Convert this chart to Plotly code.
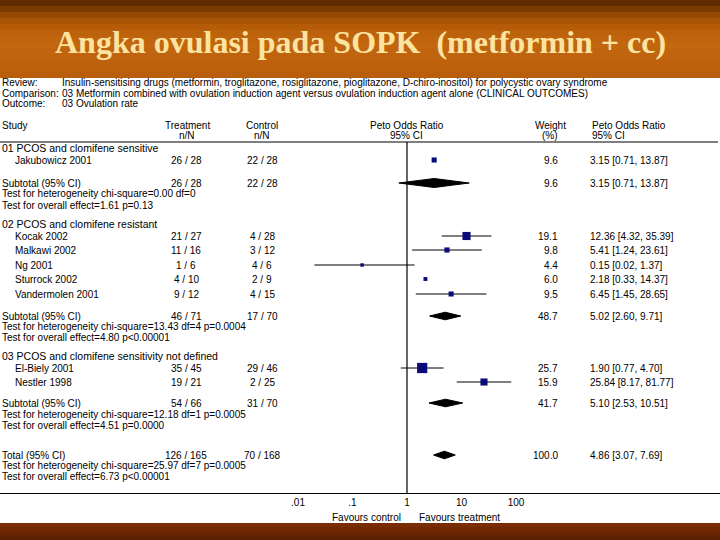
import math
import plotly.graph_objects as go

# ---------------- data ----------------
groups = ["01 PCOS and clomifene sensitive",
          "02 PCOS and clomifene resistant",
          "03 PCOS and clomifene sensitivity not defined"]
studies = ["Jakubowicz 2001", "Kocak 2002", "Malkawi 2002", "Ng 2001",
           "Sturrock 2002", "Vandermolen 2001", "El-Biely 2001", "Nestler 1998"]
treat_n = ["26 / 28", "21 / 27", "11 / 16", "1 / 6", "4 / 10", "9 / 12", "35 / 45", "19 / 21"]
control_n = ["22 / 28", "4 / 28", "3 / 12", "4 / 6", "2 / 9", "4 / 15", "29 / 46", "2 / 25"]
weights = [9.6, 19.1, 9.8, 4.4, 6.0, 9.5, 25.7, 15.9]
or_est = [3.15, 12.36, 5.41, 0.15, 2.18, 6.45, 1.90, 25.84]
or_lo = [0.71, 4.32, 1.24, 0.02, 0.33, 1.45, 0.77, 8.17]
or_hi = [13.87, 35.39, 23.61, 1.37, 14.37, 28.65, 4.70, 81.77]
ci_visible = [False, True, True, True, False, True, True, True]

sub_labels = ["Subtotal (95% CI)", "Subtotal (95% CI)", "Subtotal (95% CI)", "Total (95% CI)"]
sub_treat = ["26 / 28", "46 / 71", "54 / 66", "126 / 165"]
sub_ctrl = ["22 / 28", "17 / 70", "31 / 70", "70 / 168"]
sub_w = [9.6, 48.7, 41.7, 100.0]
sub_est = [3.15, 5.02, 5.10, 4.86]
sub_lo = [0.71, 2.60, 2.53, 3.07]
sub_hi = [13.87, 9.71, 10.51, 7.69]
het_text = ["chi-square=0.00 df=0", "chi-square=13.43 df=4 p=0.0004",
            "chi-square=12.18 df=1 p=0.0005", "chi-square=25.97 df=7 p=0.0005"]
overall_text = ["1.61 p=0.13", "4.80 p&lt;0.00001", "4.51 p=0.0000", "6.73 p&lt;0.00001"]

tick_vals = [0.01, 0.1, 1, 10, 100]
tick_labels = [".01", ".1", "1", "10", "100"]

review_lines = [
    ("Review:", "Insulin-sensitising drugs (metformin, troglitazone, rosiglitazone, pioglitazone, D-chiro-inositol) for polycystic ovary syndrome"),
    ("Comparison:", "03 Metformin combined with ovulation induction agent versus ovulation induction agent alone (CLINICAL OUTCOMES)"),
    ("Outcome:", "03 Ovulation rate"),
]
title_text = "Angka ovulasi pada SOPK&nbsp; (metformin + cc)"

# ---------------- layout (pixel positions) ----------------
W, H = 720, 540
X_ONE = 407.0      # pixel of OR = 1
DEC = 54.5         # pixels per decade
group_y = [148, 224, 356]
study_y = [160, 236, 250, 265, 279, 294, 368, 382]
sub_y = [183, 316, 403, 455]
het_y = [193, 326, 414, 465]
ovr_y = [205, 337, 425, 476]
AXIS_Y = 493
HEAD_LINE_Y = 142

FONT = "Liberation Sans, Arial, sans-serif"
FS = 10
NAVY = "#0a0a78"

def px(x):
    return x / W

def py(y):
    return 1 - y / H

fig = go.Figure()
ann = []

def txt(x, y, s, anchor="left", size=FS, color="black", family=FONT):
    ann.append(dict(x=px(x), y=py(y), xref="paper", yref="paper", text=s,
                    showarrow=False, xanchor=anchor, yanchor="middle",
                    font=dict(family=family, size=size, color=color)))

# vertical line at OR = 1
fig.add_trace(go.Scatter(x=[1, 1], y=[HEAD_LINE_Y, AXIS_Y], mode="lines",
                         line=dict(color="black", width=1.2), hoverinfo="skip"))

# study CIs and markers
for i in range(len(studies)):
    if ci_visible[i]:
        fig.add_trace(go.Scatter(x=[or_lo[i], or_hi[i]], y=[study_y[i], study_y[i]],
                                 mode="lines", line=dict(color="black", width=1),
                                 hoverinfo="skip"))
fig.add_trace(go.Scatter(x=or_est, y=study_y, mode="markers",
                         marker=dict(symbol="square", color=NAVY, opacity=1,
                                     size=[2 + 0.32 * w for w in weights],
                                     line=dict(width=0)),
                         hoverinfo="skip"))

# diamonds
for i in range(len(sub_est)):
    h = 4.5 if i == 0 else 3.8
    fig.add_trace(go.Scatter(x=[sub_lo[i], sub_est[i], sub_hi[i], sub_est[i], sub_lo[i]],
                             y=[sub_y[i], sub_y[i] - h, sub_y[i], sub_y[i] + h, sub_y[i]],
                             mode="lines", fill="toself", fillcolor="black",
                             line=dict(color="black", width=1), hoverinfo="skip"))

# ---------------- texts ----------------
txt(360, 42, "<b>" + title_text + "</b>", anchor="center", size=32,
    color="#fbe3a0", family="Liberation Serif, Times New Roman, serif")

for (lab, val), y in zip(review_lines, [82, 93, 103]):
    txt(0, y, lab)
    txt(60, y, val)

txt(0, 125, "Study")
txt(187, 125, "Treatment", "center")
txt(187, 135, "n/N", "center")
txt(262, 125, "Control", "center")
txt(262, 135, "n/N", "center")
txt(407, 125, "Peto Odds Ratio", "center")
txt(406, 135, "95% CI", "center")
txt(550, 125, "Weight", "center")
txt(550, 135, "(%)", "center")
txt(590, 125, "Peto Odds Ratio")
txt(590, 135, "95% CI")

for g, y in zip(groups, group_y):
    txt(0, y, g, size=10.5)

for i in range(len(studies)):
    y = study_y[i]
    txt(13, y, studies[i])
    txt(186, y, treat_n[i], "center")
    txt(262, y, control_n[i], "center")
    txt(560, y, f"{weights[i]:.1f}", "right")
    txt(588, y, f"{or_est[i]:.2f} [{or_lo[i]:.2f}, {or_hi[i]:.2f}]")

for i in range(len(sub_est)):
    txt(0, sub_y[i], sub_labels[i])
    txt(186, sub_y[i], sub_treat[i], "center")
    txt(262, sub_y[i], sub_ctrl[i], "center")
    txt(560, sub_y[i], f"{sub_w[i]:.1f}", "right")
    txt(588, sub_y[i], f"{sub_est[i]:.2f} [{sub_lo[i]:.2f}, {sub_hi[i]:.2f}]")
    txt(0, het_y[i], "Test for heterogeneity " + het_text[i])
    txt(0, ovr_y[i], "Test for overall effect=" + overall_text[i])

txt(403, 517, "Favours control", "right")
txt(417, 517, "Favours treatment", "left")

# ---------------- background shapes ----------------
shapes = []
top_cols = ["#5e2c00", "#7a3a00", "#944800", "#a85404", "#b65c08", "#bd620c",
            "#c0640e", "#c2660f", "#c06410", "#bf630e", "#bd610d", "#bb600c", "#b95e0b"]
band = 78 / len(top_cols)
for k, c in enumerate(top_cols):
    y1 = 78 if k == len(top_cols) - 1 else band * (k + 1) + 1
    shapes.append(dict(type="rect", xref="paper", yref="paper", x0=0, x1=1,
                       y0=py(y1), y1=py(band * k), fillcolor=c,
                       line=dict(width=0), layer="below"))
bot_cols = ["#7a2c04", "#712803", "#672302", "#5c1f01"]
bb = (H - 523) / len(bot_cols)
for k, c in enumerate(bot_cols):
    shapes.append(dict(type="rect", xref="paper", yref="paper", x0=0, x1=1,
                       y0=py(min(H, 523 + bb * (k + 1) + 1)), y1=py(523 + bb * k),
                       fillcolor=c, line=dict(width=0), layer="below"))
shapes.append(dict(type="line", xref="paper", yref="paper", x0=0, x1=px(718),
                   y0=py(HEAD_LINE_Y), y1=py(HEAD_LINE_Y),
                   line=dict(color="black", width=1.2)))

fig.update_layout(
    width=W, height=H, margin=dict(l=0, r=0, t=0, b=0),
    paper_bgcolor="white", plot_bgcolor="rgba(0,0,0,0)",
    showlegend=False, annotations=ann, shapes=shapes,
    xaxis=dict(type="log", range=[(0 - X_ONE) / DEC, (W - X_ONE) / DEC],
               domain=[0, 1], anchor="free", position=py(AXIS_Y),
               showgrid=False, zeroline=False, showline=True, linecolor="black",
               linewidth=1.2, ticks="", tickvals=tick_vals, ticktext=tick_labels,
               tickfont=dict(family=FONT, size=FS, color="black")),
    yaxis=dict(range=[H, 0], domain=[0, 1], visible=False, showgrid=False,
               zeroline=False),
)

fig.write_html("out.html", config={"displayModeBar": False},
               post_script="document.body.style.margin='0';document.body.style.overflow='hidden';")
